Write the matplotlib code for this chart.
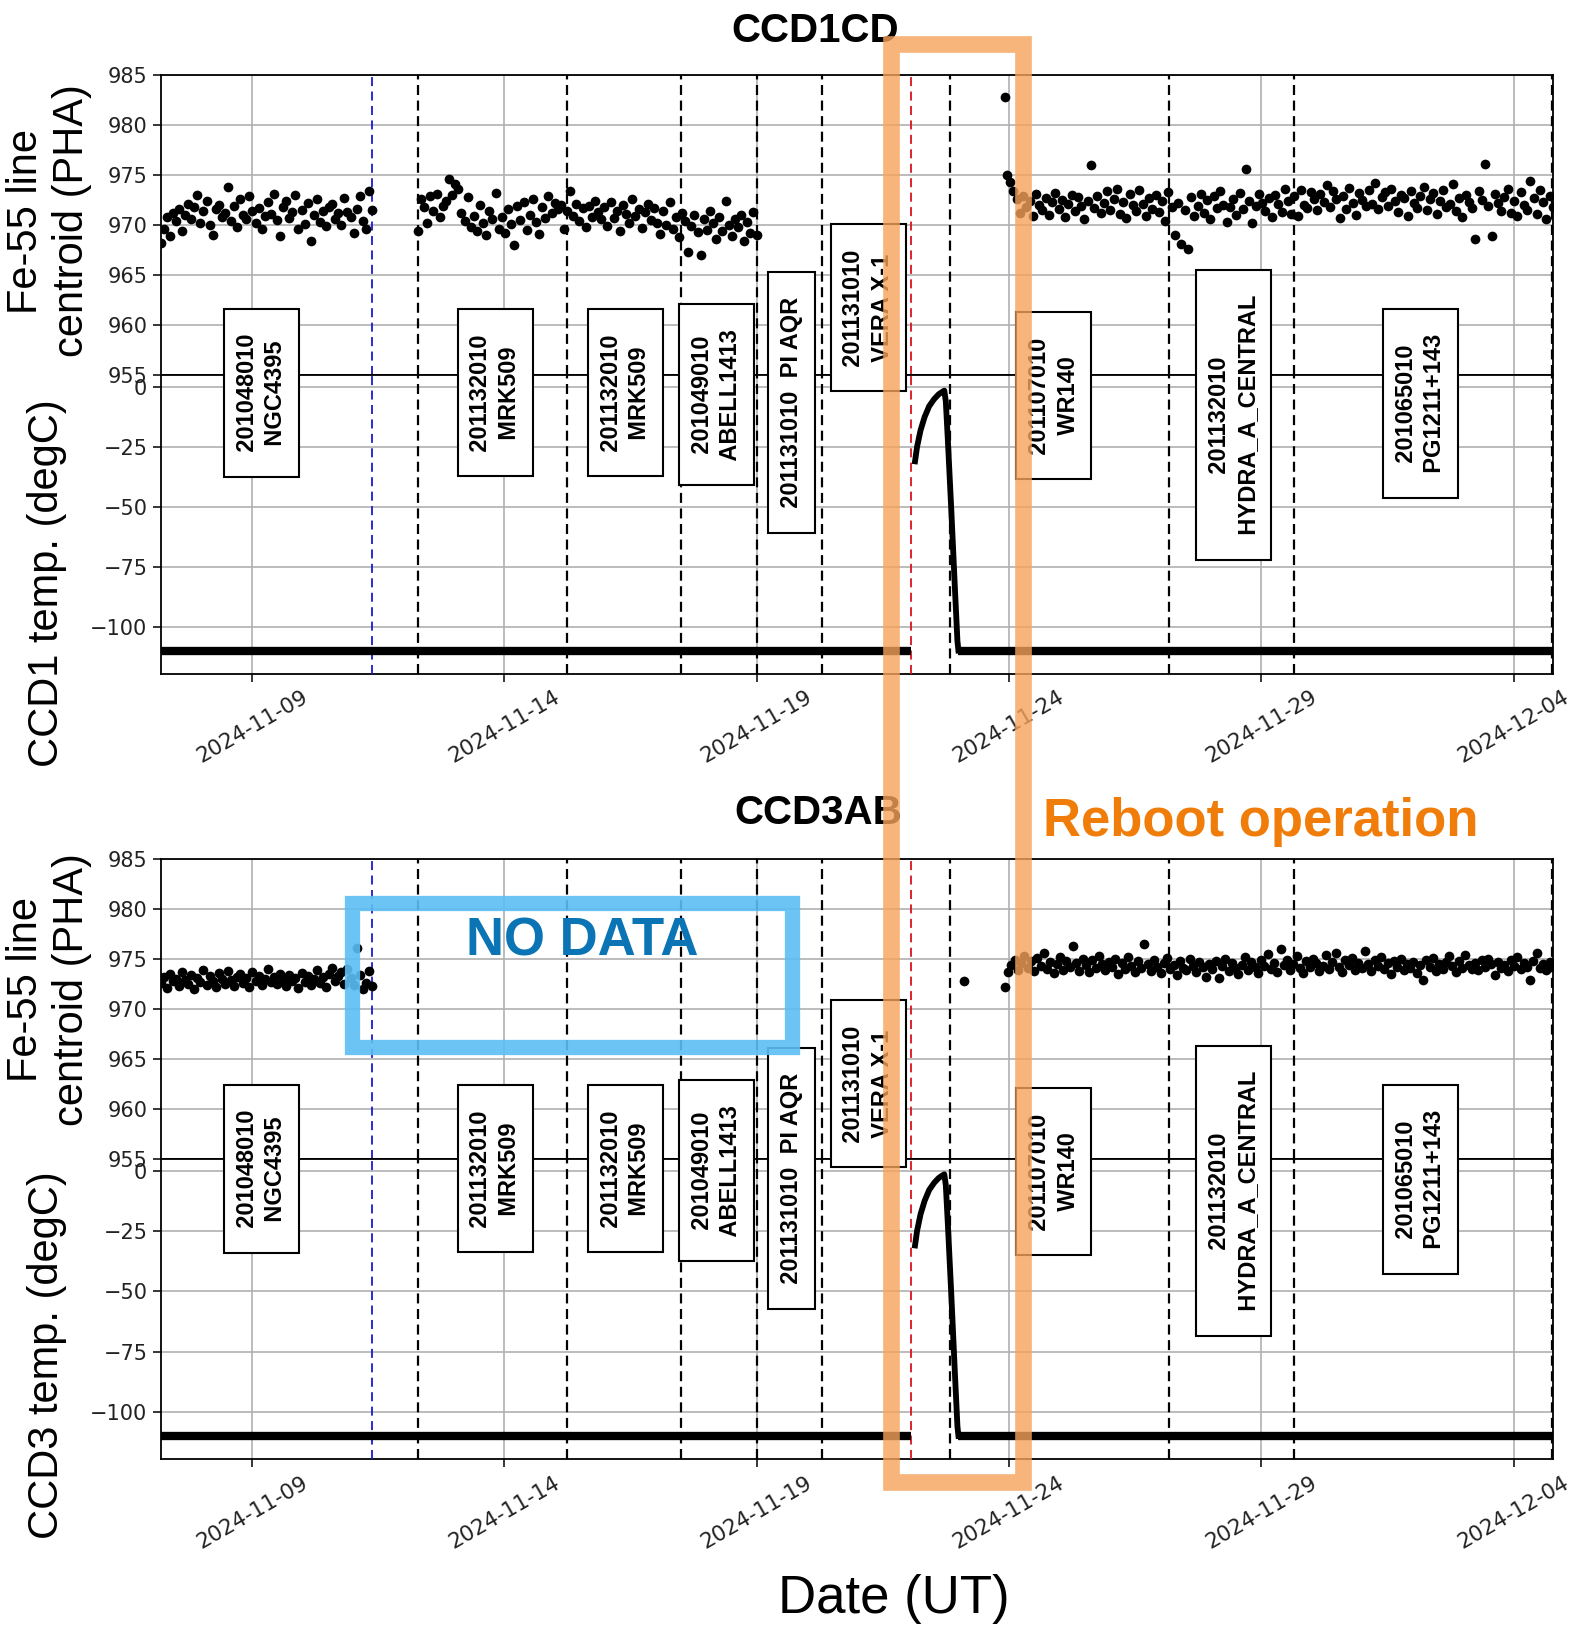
import numpy as np
import matplotlib
matplotlib.use("Agg")
import matplotlib.pyplot as plt
import matplotlib.dates as mdates
from matplotlib.patches import Rectangle
from matplotlib.transforms import blended_transform_factory
from matplotlib import font_manager
from datetime import datetime

# ---- data (times are given as day of November 2024, Dec 4 = 34) ----
ccd1_a_span = (7.19, 11.38)
ccd1_a = [968.2, 969.6, 970.8, 968.9, 971.2, 970.4, 971.6, 969.4, 971.0, 972.1,
          970.6, 971.8, 973.0, 970.2, 971.4, 972.4, 970.0, 969.0, 971.6, 972.0,
          970.8, 971.2, 973.8, 970.4, 971.9, 969.8, 972.6, 971.0, 970.6, 972.9,
          971.4, 970.2, 971.7, 969.6, 970.9, 972.3, 971.1, 973.1, 970.5, 968.9,
          971.8, 972.4, 970.7, 971.3, 973.0, 969.6, 971.5, 970.1, 972.2, 968.4,
          971.0, 972.6, 970.3, 971.4, 969.9, 971.8, 972.1, 970.6, 971.2, 970.0,
          972.7, 971.3, 970.8, 969.2, 971.6, 972.9, 970.4, 969.6, 973.4, 971.5]

ccd1_b_span = (12.29, 19.0)
ccd1_b = [969.4, 972.6, 971.8, 970.2, 972.9, 971.4, 973.1, 970.8, 971.9, 972.4, 974.6, 973.0,
          974.1, 973.6, 971.2, 970.4, 972.8, 969.8, 970.9, 969.4, 972.0, 970.2, 969.0, 971.4,
          970.6, 973.2, 969.6, 970.8,
          969.2, 971.6, 970.1, 968.0, 971.9, 970.5, 972.3, 969.5, 971.0, 972.6, 970.3, 969.1,
          971.8, 970.7, 972.9, 971.2,
          972.2, 971.6, 972.0, 969.6, 971.4, 973.4, 970.9, 972.1, 970.4, 971.7, 969.8, 971.9,
          970.8, 972.4, 971.3, 970.6,
          971.8, 969.9, 972.3, 970.7, 971.4, 969.4, 972.0, 971.1, 970.2, 972.6, 970.9, 971.6,
          969.7, 971.3, 972.1, 970.5,
          971.7, 970.2, 969.1, 971.4, 970.0, 972.3, 969.6, 970.8, 968.8, 971.2, 970.4, 967.3,
          969.9, 971.0, 969.3, 967.0, 970.6,
          969.5, 971.4, 970.2, 968.6, 970.8, 969.4, 972.4, 970.0, 968.9, 970.6, 969.8, 971.0,
          968.4, 970.3, 969.2, 971.3, 969.0]

ccd1_spike_day, ccd1_spike = 23.92, 982.8

ccd1_c_span = (23.96, 34.78)
ccd1_c = [975.0, 974.3, 973.4, 972.6, 971.2, 972.9, 971.8, 972.4, 970.9, 973.1, 972.0, 971.5, 972.7, 971.0, 972.3, 973.2,
          971.6, 972.5, 970.8, 972.1, 973.0, 971.4, 972.8, 971.9, 970.6, 972.4, 976.0, 971.7, 972.9, 971.2, 972.2, 973.4,
          971.5, 972.6, 973.6, 971.1, 972.3, 970.7, 973.1, 972.0, 971.4, 973.5, 972.1, 970.9, 972.7, 971.6, 973.0, 971.3,
          972.4, 970.4, 973.3, 971.8, 969.0, 972.2, 968.1, 971.5, 967.6, 972.8, 970.9, 971.9, 973.1, 971.2, 972.5, 970.6,
          972.9, 971.7, 973.4, 972.0, 970.3, 971.8, 972.6, 971.0, 973.2, 971.6, 975.6, 972.4, 970.2, 971.9, 973.1, 972.2,
          971.4, 972.7, 970.8, 973.0, 972.1, 971.3, 973.6, 972.4, 971.1, 972.9, 970.9, 973.5, 972.0, 971.7, 973.3, 972.6,
          971.5, 973.1, 972.3, 974.0, 971.8, 973.4, 972.6, 970.7, 972.9, 971.6, 973.7, 972.2, 971.0, 973.2, 972.5, 971.9,
          973.5, 972.1, 974.2, 971.6, 972.8, 973.3, 971.9, 973.6, 972.4, 971.3, 973.0, 972.7, 970.9, 973.4, 972.2, 971.7,
          972.9, 973.8, 971.5, 972.6, 973.2, 971.1, 972.4, 973.5, 971.8, 972.1, 974.1, 971.4, 972.7, 970.8, 973.0, 972.3,
          971.7, 968.6, 973.4, 972.5, 976.1, 971.9, 968.9, 973.1, 972.2, 971.4, 972.8, 973.6, 971.2, 972.4, 970.9, 973.3,
          972.0, 971.5, 974.4, 972.7, 971.1, 973.5, 972.3, 970.6, 972.9, 971.8]

ccd3_a_span = (7.19, 11.38)
ccd3_a = [972.6, 973.2, 972.1, 973.5, 972.8, 973.0, 972.3, 973.7, 972.9, 972.5,
          973.4, 972.0, 973.1, 972.7, 973.9, 972.4, 973.3, 972.8, 972.2, 973.6,
          973.0, 972.5, 973.8, 972.9, 972.3, 973.2, 973.5, 972.6, 973.1, 972.2,
          973.7, 972.8, 973.3, 972.4, 973.0, 974.0, 972.7, 973.2, 972.5, 973.5,
          972.9, 972.3, 973.4, 972.8, 973.1, 972.1, 973.6, 972.7, 973.3, 972.4,
          973.0, 973.9, 972.6, 973.2, 972.2, 973.5, 974.1, 972.8, 973.3, 973.7,
          972.5, 974.0, 973.1, 972.4, 976.1, 973.4, 972.0, 972.6, 973.8, 972.3]

ccd3_lone_day, ccd3_lone = 23.12, 972.8

ccd3_c_span = (23.92, 34.78)
ccd3_c = [972.2, 973.7, 974.4, 974.9, 973.9, 974.6, 975.3, 974.1, 974.8, 973.8, 975.1, 974.3, 975.6, 974.0, 974.7, 973.6,
          974.5, 975.2, 973.9, 974.8, 974.2, 976.3, 974.6, 973.8, 975.0, 974.4, 973.7, 974.9, 974.1, 975.3, 974.5, 973.9,
          974.7, 974.2, 975.0, 973.5, 974.6, 974.0, 975.2, 974.3, 973.7, 974.8, 974.1, 976.5, 974.5, 973.8, 974.9, 974.2,
          973.6, 974.6, 975.1, 974.0, 974.4, 973.4, 974.8, 974.1, 973.9, 975.0, 974.3, 973.7, 974.7, 974.2, 973.2, 974.5,
          974.0, 974.8, 973.1, 974.3, 975.0, 973.8, 974.6, 974.1, 973.5, 974.4, 975.2, 973.9, 974.7, 974.2, 973.6, 974.9,
          974.3, 975.5, 974.0, 974.6, 973.7, 976.0, 974.4, 974.9, 973.9, 974.5, 975.3, 974.1, 973.6, 974.8, 974.2, 975.0,
          974.6, 973.8, 974.3, 975.4, 974.0, 974.7, 975.6, 974.2, 973.7, 974.9, 974.4, 975.1, 973.9, 974.6, 974.1, 975.8,
          974.5, 973.8, 974.9, 974.3, 975.2, 974.0, 974.6, 973.5, 974.8, 974.2, 975.0, 973.9, 974.5, 974.1, 974.7, 973.6,
          974.4, 972.9, 974.9, 974.2, 975.1, 973.8, 974.5, 974.0, 974.7, 975.3, 974.3, 973.7, 974.8, 974.1, 975.4, 974.4,
          974.0, 974.6, 973.9, 974.9, 974.2, 975.0, 974.5, 973.4, 974.7, 974.1, 974.4, 973.8, 974.9, 974.3, 975.2, 974.0,
          974.6, 974.2, 972.9, 974.8, 975.6, 974.1, 974.5, 973.9, 974.7, 974.3]

# CCD temperature (degC): cold plateau, gap, warm-up arc, cool-down
temp_flat_days = [7.19, 22.06, np.nan, 23.0, 34.78]
temp_flat_vals = [-110, -110, np.nan, -110, -110]
temp_arc_days = [22.14, 22.18, 22.25, 22.33, 22.42, 22.52, 22.61, 22.68, 22.72,
                 22.75, 22.79, 22.86, 22.93, 22.98, 23.0]
temp_arc_vals = [-31, -25, -18, -12.5, -8, -5, -3, -2, -1.5,
                 -6, -22, -52, -84, -106, -110]

# observation boundaries and target boxes
boundary_days = [12.29, 15.24, 17.5, 19.0, 20.29, 22.83, 27.17, 29.64, 34.76]
safe_mode_day = 11.38
reboot_day = 22.06
obs_days = [9.185, 13.82, 16.40, 18.21, 19.69, 21.21, 24.89, 28.46, 32.16]
obs_labels = ["201048010\nNGC4395", "201132010\nMRK509", "201132010\nMRK509",
              "201049010\nABELL1413", "201131010  PI AQR", "201131010\nVERA X-1",
              "201107010\nWR140", "201132010\nHYDRA_A_CENTRAL", "201065010\nPG1211+143"]
tick_days = [9, 14, 19, 24, 29, 34]

# ---- helpers ----
base = mdates.date2num(datetime(2024, 11, 1))


def nov(d):
    return base + np.asarray(d, dtype=float) - 1


def span_days(span, vals):
    return nov(np.linspace(span[0], span[1], len(vals)))


def padded(label):
    # a couple of spaces at both ends of each line make the boxes taller
    return "\n".join("  " + ln + "  " for ln in label.split("\n"))


names = {f.name for f in font_manager.fontManager.ttflist}
sans = "Liberation Sans" if "Liberation Sans" in names else "DejaVu Sans"
narrow = "Liberation Sans Narrow" if "Liberation Sans Narrow" in names else sans

W, H = 1571, 1625
fig = plt.figure(figsize=(W / 100, H / 100), dpi=100)

left, width = 0.1022, 0.8863
ax1 = fig.add_axes([left, 0.7692, width, 0.1849])
ax2 = fig.add_axes([left, 0.5855, width, 0.1837], sharex=ax1)
ax3 = fig.add_axes([left, 0.2870, width, 0.1843], sharex=ax1)
ax4 = fig.add_axes([left, 0.1021, width, 0.1849], sharex=ax1)

grid_kw = dict(color="#b0b0b0", lw=1.2)
vline_kw = dict(color="k", lw=1.6, ls=(0, (4.5, 2.5)), zorder=3)


def style_axes(ax):
    ax.grid(True, **grid_kw)
    ax.tick_params(labelsize=15, labelcolor="#222222", length=6, width=1.1)
    for s in ax.spines.values():
        s.set_linewidth(1.3)
    for d in boundary_days:
        ax.axvline(nov(d), **vline_kw)
    ax.axvline(nov(safe_mode_day), color="#1a1ad0", lw=1.3, ls=(0, (5, 3)), zorder=3)
    ax.axvline(nov(reboot_day), color="#d8141e", lw=1.3, ls=(0, (5, 3)), zorder=3)


def draw_fe(ax, segments):
    for x, y in segments:
        ax.plot(x, y, "o", color="k", ms=7, mew=0, zorder=4)
    ax.set_ylim(955, 985)
    ax.set_yticks([955, 960, 965, 970, 975, 980, 985])
    style_axes(ax)
    ax.tick_params(axis="x", length=0, labelbottom=False)


def draw_temp(ax):
    ax.plot(nov(temp_flat_days), temp_flat_vals, color="k", lw=6, solid_capstyle="butt", zorder=4)
    ax.plot(nov(temp_arc_days), temp_arc_vals, color="k", lw=4.2, zorder=4)
    ax.set_ylim(-119.6, 5)
    ax.set_yticks([0, -25, -50, -75, -100])
    style_axes(ax)
    ax.xaxis.set_major_locator(plt.FixedLocator(nov(tick_days)))
    ax.xaxis.set_major_formatter(mdates.DateFormatter("%Y-%m-%d"))
    for lab in ax.get_xticklabels():
        lab.set_rotation(30)
        lab.set_ha("center")
        lab.set_fontsize(15.5)


draw_fe(ax1, [(span_days(ccd1_a_span, ccd1_a), ccd1_a),
              (span_days(ccd1_b_span, ccd1_b), ccd1_b),
              (nov([ccd1_spike_day]), [ccd1_spike]),
              (span_days(ccd1_c_span, ccd1_c), ccd1_c)])
draw_temp(ax2)
draw_fe(ax3, [(span_days(ccd3_a_span, ccd3_a), ccd3_a),
              (nov([ccd3_lone_day]), [ccd3_lone]),
              (span_days(ccd3_c_span, ccd3_c), ccd3_c)])
draw_temp(ax4)
ax1.set_xlim(nov(7.19), nov(34.78))

# target boxes sit over both axes of a panel
box_y_px = [392.8, 392.8, 392.8, 394.8, 402.1, 307.8, 395.9, 415.0, 403.6]
panel_shift_px = 776
trans = blended_transform_factory(ax1.transData, fig.transFigure)
for shift in (0, panel_shift_px):
    for d, lab, ypx in zip(obs_days, obs_labels, box_y_px):
        fig.text(nov(d), 1 - (ypx + shift) / H, padded(lab), transform=trans,
                 rotation=90, ha="center", va="center", multialignment="center",
                 family=sans, fontweight="bold", fontsize=17, linespacing=1.3,
                 bbox=dict(boxstyle="square,pad=0.5", fc="white", ec="k", lw=1.5),
                 zorder=6)

# axis labels and titles
fig.text(0.031, 0.864, "Fe-55 line\ncentroid (PHA)", rotation=90, ha="center", va="center",
         family=sans, fontsize=30)
fig.text(0.0297, 0.641, "CCD1 temp. (degC)", rotation=90, ha="center", va="center",
         family=sans, fontsize=30)
fig.text(0.031, 0.391, "Fe-55 line\ncentroid (PHA)", rotation=90, ha="center", va="center",
         family=sans, fontsize=30)
fig.text(0.0297, 0.166, "CCD3 temp. (degC)", rotation=90, ha="center", va="center",
         family=sans, fontsize=30)
fig.text(0.519, 0.981, "CCD1CD", ha="center", va="center", family=narrow,
         fontweight="bold", fontsize=29)
fig.text(0.521, 0.4994, "CCD3AB", ha="center", va="center", family=narrow,
         fontweight="bold", fontsize=29)
fig.text(0.569, 0.016, "Date (UT)", ha="center", va="center", family=sans, fontsize=38)

# highlight frames
orange = Rectangle((0.5672, 0.0880), 0.6512 - 0.5672, 0.9732 - 0.0880, transform=fig.transFigure,
                   fill=False, ec="#f5a35a", lw=12, alpha=0.8, zorder=10)
fig.add_artist(orange)
blue = Rectangle((0.2241, 0.3557), 0.5041 - 0.2241, 0.4443 - 0.3557, transform=fig.transFigure,
                 fill=False, ec="#5cbef4", lw=11, alpha=0.9, zorder=10)
fig.add_artist(blue)
fig.text(0.3707, 0.4209, "NO DATA", ha="center", va="center", family=narrow,
         fontweight="bold", fontsize=38, color="#0a74b4", zorder=11)
fig.text(0.8028, 0.4943, "Reboot operation", ha="center", va="center", family=sans,
         fontweight="bold", fontsize=38, color="#f07d0a", zorder=11)

fig.savefig("out.png", dpi=100)
